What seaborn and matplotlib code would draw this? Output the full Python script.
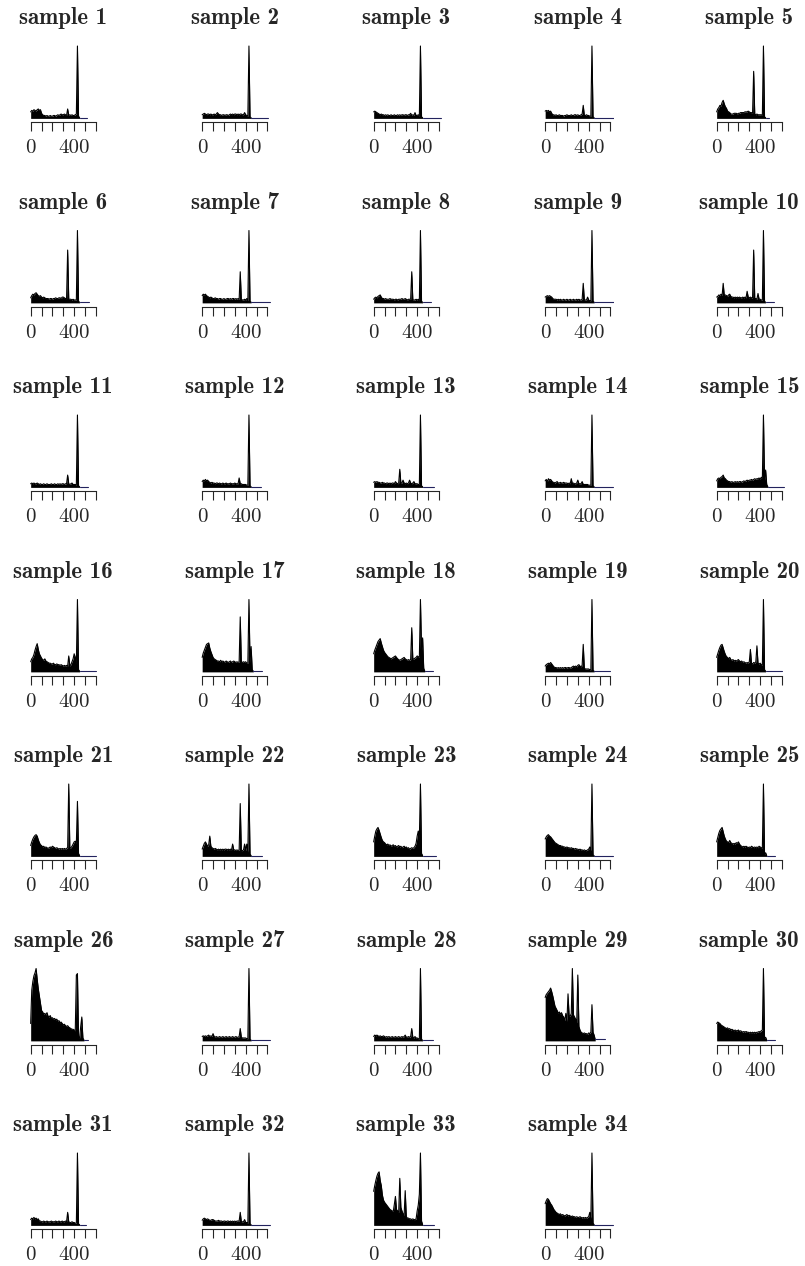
import numpy as np
import matplotlib
matplotlib.use("Agg")
import matplotlib.pyplot as plt
import seaborn as sns

# Channel spacing of every spectrum (values start at channel 0)
step = 10

s01 = [9, 11, 10, 12, 11, 10, 12, 13, 11, 12, 7, 5, 4, 4, 3, 4, 3, 3, 4, 3, 3, 4, 4, 3, 4,
       5, 4, 5, 6, 5, 5, 6, 5, 4, 13, 4, 5, 4, 5, 4, 4, 5, 6, 100, 3, 1]
s02 = [5, 6, 7, 6, 5, 6, 6, 5, 6, 5, 5, 6, 5, 6, 8, 6, 5, 5, 4, 5, 5, 4, 5, 5, 4,
       5, 6, 5, 6, 5, 6, 6, 5, 6, 5, 6, 6, 5, 5, 8, 5, 4, 3, 100, 2, 1]
s03 = [9, 10, 9, 8, 7, 6, 5, 6, 5, 5, 4, 5, 4, 5, 4, 4, 5, 4, 4, 5, 4, 4, 5, 4, 5,
       4, 5, 5, 4, 5, 5, 4, 5, 5, 7, 4, 5, 4, 8, 4, 4, 5, 3, 100, 2, 1]
s04 = [10, 11, 10, 11, 9, 10, 7, 5, 5, 4, 5, 4, 4, 5, 4, 4, 4, 3, 4, 4, 5, 4, 4, 4, 5,
       4, 4, 5, 5, 4, 5, 4, 4, 5, 6, 18, 4, 4, 5, 4, 4, 3, 3, 100, 2, 1]
s05 = [9, 13, 15, 18, 17, 22, 25, 20, 16, 14, 10, 9, 8, 6, 6, 6, 7, 7, 7, 6, 7, 7, 8, 8, 8,
       8, 9, 9, 9, 10, 9, 8, 8, 7, 65, 6, 5, 6, 5, 5, 5, 5, 4, 100, 2, 1]
s06 = [7, 10, 12, 11, 13, 14, 12, 10, 9, 10, 8, 7, 8, 7, 6, 6, 6, 5, 6, 6, 5, 6, 6, 7, 6,
       6, 7, 7, 6, 8, 8, 7, 6, 6, 73, 5, 5, 5, 4, 5, 4, 4, 4, 100, 2, 1]
s07 = [10, 12, 11, 12, 10, 9, 8, 7, 8, 7, 6, 6, 7, 6, 6, 5, 6, 6, 5, 5, 6, 5, 5, 6, 6,
       5, 6, 5, 6, 6, 5, 6, 5, 6, 5, 43, 5, 4, 4, 5, 4, 6, 3, 100, 2, 1]
s08 = [5, 7, 8, 7, 9, 10, 11, 8, 6, 6, 5, 6, 5, 5, 5, 6, 5, 5, 5, 4, 5, 5, 4, 5, 5,
       5, 6, 5, 5, 6, 5, 4, 5, 5, 5, 43, 4, 4, 4, 5, 4, 5, 3, 100, 2, 1]
s09 = [8, 9, 10, 9, 10, 9, 8, 6, 5, 5, 5, 4, 5, 4, 5, 4, 4, 5, 4, 4, 5, 4, 4, 5, 4,
       4, 5, 4, 4, 5, 4, 5, 4, 4, 5, 27, 4, 4, 4, 8, 4, 3, 3, 100, 2, 1]
s10 = [8, 9, 11, 10, 12, 10, 27, 10, 11, 10, 9, 11, 12, 9, 8, 8, 7, 8, 7, 8, 7, 8, 7, 7, 8,
       7, 8, 7, 16, 8, 7, 8, 7, 7, 73, 6, 6, 5, 13, 5, 5, 4, 4, 100, 2, 1]
s11 = [5, 6, 5, 6, 5, 5, 6, 5, 4, 5, 4, 4, 5, 4, 4, 5, 4, 4, 4, 5, 4, 4, 5, 4, 4,
       5, 4, 5, 4, 5, 5, 4, 5, 5, 17, 5, 4, 5, 6, 4, 4, 4, 3, 100, 2, 1]
s12 = [8, 10, 9, 11, 9, 10, 8, 7, 6, 7, 6, 6, 5, 6, 6, 5, 6, 5, 5, 6, 5, 5, 6, 5, 5,
       5, 6, 5, 5, 5, 6, 5, 5, 5, 13, 5, 5, 4, 4, 4, 4, 3, 3, 100, 2, 1]
s13 = [7, 8, 7, 8, 7, 7, 6, 6, 7, 6, 6, 5, 6, 6, 5, 6, 5, 6, 6, 5, 8, 6, 5, 6, 25,
       6, 6, 10, 6, 5, 6, 5, 6, 10, 6, 5, 6, 8, 5, 5, 5, 4, 4, 100, 2, 1]
s14 = [9, 11, 8, 12, 10, 11, 9, 7, 7, 6, 7, 8, 6, 6, 7, 6, 6, 7, 6, 6, 6, 5, 6, 5, 12,
       5, 6, 5, 5, 6, 10, 5, 5, 5, 8, 4, 4, 4, 4, 4, 3, 3, 3, 100, 2, 1]
s15 = [9, 12, 13, 12, 14, 15, 17, 13, 12, 10, 9, 8, 8, 7, 8, 7, 7, 8, 7, 8, 7, 8, 8, 7, 8,
       9, 8, 9, 10, 9, 10, 10, 11, 10, 11, 12, 11, 12, 12, 13, 11, 14, 12, 100, 10, 24, 4, 1]
s16 = [14, 18, 20, 24, 30, 35, 39, 31, 25, 22, 19, 17, 16, 18, 15, 14, 13, 12, 12, 11, 11, 12, 10, 10, 11,
       10, 10, 9, 10, 9, 8, 9, 8, 9, 8, 22, 8, 10, 14, 18, 25, 20, 12, 100, 3, 1]
s17 = [20, 26, 30, 34, 38, 39, 40, 33, 28, 24, 20, 18, 17, 16, 15, 15, 14, 16, 14, 15, 14, 13, 15, 14, 13,
       14, 15, 13, 14, 15, 14, 13, 14, 13, 14, 76, 14, 13, 14, 13, 14, 12, 12, 100, 13, 35, 3, 1]
s18 = [25, 30, 34, 38, 42, 44, 46, 40, 35, 30, 27, 25, 23, 21, 20, 19, 18, 19, 20, 21, 22, 20, 18, 17, 16,
       17, 18, 19, 20, 18, 17, 16, 17, 16, 17, 61, 17, 18, 19, 20, 22, 21, 20, 100, 30, 47, 5, 1]
s19 = [8, 10, 11, 12, 11, 13, 11, 9, 7, 6, 6, 5, 6, 5, 6, 5, 6, 5, 6, 6, 5, 6, 6, 5, 6,
       7, 8, 7, 8, 7, 9, 10, 8, 7, 9, 38, 5, 4, 4, 4, 4, 3, 3, 100, 2, 1]
s20 = [20, 25, 30, 34, 37, 38, 33, 28, 24, 21, 20, 18, 20, 17, 16, 17, 15, 16, 15, 16, 17, 15, 14, 15, 13,
       14, 13, 12, 13, 12, 14, 31, 12, 11, 13, 12, 14, 36, 12, 11, 12, 10, 9, 100, 3, 1]
s21 = [15, 20, 24, 27, 29, 30, 28, 23, 19, 16, 15, 13, 14, 12, 13, 12, 11, 12, 13, 12, 14, 13, 12, 11, 12,
       11, 10, 11, 10, 11, 10, 11, 10, 11, 12, 100, 11, 12, 14, 17, 20, 21, 18, 76, 4, 1]
s22 = [10, 14, 18, 20, 17, 14, 16, 28, 14, 12, 11, 10, 11, 10, 9, 10, 9, 10, 9, 10, 9, 10, 10, 9, 10,
       9, 10, 9, 17, 9, 9, 8, 9, 8, 9, 73, 8, 8, 9, 17, 8, 17, 6, 100, 3, 1]
s23 = [20, 28, 35, 38, 40, 36, 31, 26, 22, 20, 19, 17, 16, 17, 15, 16, 14, 15, 16, 14, 15, 13, 14, 15, 13,
       14, 12, 13, 14, 12, 13, 11, 12, 10, 11, 12, 11, 12, 14, 18, 28, 35, 25, 100, 4, 1]
s24 = [24, 27, 29, 30, 28, 27, 25, 23, 21, 19, 18, 17, 16, 15, 15, 14, 14, 13, 13, 12, 13, 12, 12, 11, 12,
       11, 11, 10, 11, 10, 10, 9, 10, 9, 9, 8, 9, 8, 8, 9, 10, 13, 8, 100, 2, 1]
s25 = [20, 26, 32, 36, 38, 40, 34, 28, 24, 21, 20, 19, 22, 19, 18, 17, 18, 17, 19, 18, 20, 17, 15, 14, 13,
       14, 13, 14, 13, 12, 13, 12, 14, 13, 12, 13, 12, 13, 12, 14, 13, 12, 11, 100, 3, 5, 1]
s26 = [24, 70, 82, 90, 94, 100, 85, 72, 62, 52, 42, 40, 37, 38, 36, 39, 34, 33, 35, 31, 32, 30, 31, 29, 30,
       27, 28, 25, 26, 24, 22, 23, 21, 20, 21, 19, 18, 17, 16, 16, 15, 14, 91, 93, 6, 4, 20, 33, 4, 1]
s27 = [6, 7, 6, 7, 6, 7, 8, 6, 7, 6, 10, 6, 5, 6, 5, 5, 6, 5, 5, 6, 5, 5, 6, 5, 5,
       6, 5, 5, 6, 5, 5, 6, 5, 5, 6, 17, 5, 4, 4, 4, 4, 3, 3, 100, 2, 1]
s28 = [6, 8, 7, 8, 7, 6, 7, 6, 6, 7, 6, 5, 6, 5, 6, 5, 5, 6, 5, 5, 6, 5, 5, 6, 5,
       5, 6, 5, 6, 8, 5, 5, 6, 5, 6, 17, 5, 4, 6, 4, 4, 3, 3, 100, 2, 1]
s29 = [60, 64, 66, 68, 70, 73, 68, 62, 55, 48, 45, 42, 38, 40, 37, 39, 35, 33, 28, 38, 27, 65, 35, 34, 38,
       100, 36, 33, 30, 25, 91, 20, 15, 12, 11, 10, 11, 10, 10, 9, 11, 10, 12, 50, 12, 8, 2]
s30 = [24, 26, 25, 24, 22, 21, 20, 19, 18, 17, 18, 16, 17, 15, 16, 15, 14, 15, 14, 14, 15, 13, 14, 13, 12,
       13, 12, 13, 12, 12, 11, 12, 11, 12, 11, 12, 11, 12, 12, 13, 12, 14, 15, 100, 3, 5, 1]
s31 = [8, 10, 9, 11, 9, 10, 8, 9, 6, 6, 5, 5, 6, 5, 5, 6, 5, 5, 5, 6, 5, 5, 5, 6, 5,
       5, 6, 5, 5, 6, 5, 5, 6, 5, 18, 5, 4, 4, 5, 4, 4, 3, 3, 100, 2, 1]
s32 = [7, 9, 10, 9, 8, 9, 8, 7, 7, 8, 8, 7, 6, 6, 6, 7, 6, 6, 6, 5, 6, 6, 5, 6, 6,
       5, 6, 5, 6, 5, 6, 5, 6, 6, 6, 18, 5, 5, 5, 8, 4, 4, 3, 100, 2, 1]
s33 = [47, 55, 62, 68, 72, 74, 62, 55, 42, 35, 32, 30, 28, 26, 24, 22, 21, 20, 19, 29, 40, 22, 20, 18, 65,
       25, 20, 16, 14, 48, 12, 10, 10, 9, 9, 8, 9, 8, 8, 9, 20, 28, 43, 100, 6, 1]
s34 = [30, 34, 37, 36, 33, 30, 28, 25, 22, 20, 18, 17, 16, 15, 16, 14, 15, 14, 13, 14, 15, 13, 14, 13, 12,
       13, 12, 12, 11, 12, 11, 11, 12, 11, 10, 11, 10, 11, 10, 11, 12, 18, 10, 100, 3, 1]

samples = [s01, s02, s03, s04, s05, s06, s07, s08, s09, s10,
           s11, s12, s13, s14, s15, s16, s17, s18, s19, s20,
           s21, s22, s23, s24, s25, s26, s27, s28, s29, s30,
           s31, s32, s33, s34]
titles = [f"sample {i}" for i in range(1, len(samples) + 1)]

# Last channel of the near-zero trailing segment of each spectrum
tail_end = [515, 605, 623, 630, 480,
            540, 628, 530, 630, 525,
            525, 539, 553, 628, 619,
            600, 548, 544, 600, 600,
            600, 548, 577, 628, 534,
            525, 628, 544, 550, 534,
            506, 628, 553, 628]

tick_pos = [0, 100, 200, 300, 400, 500, 600]
tick_txt = ["0", "", "", "", "400", "", ""]

sns.set_style("ticks")
plt.rcParams["font.family"] = ["cmr10", "DejaVu Serif"]
plt.rcParams["axes.formatter.use_mathtext"] = True

W, H = 805, 1266
fig = plt.figure(figsize=(W / 100, H / 100), dpi=100)

ncol = 5
ax_w, ax_h = 71.8, 79.6
for i, (vals, name, tend) in enumerate(zip(samples, titles, tail_end)):
    r, c = divmod(i, ncol)
    left = 27.4 + 171.5 * c
    top = 42.4 + 184.5 * r
    ax = fig.add_axes([left / W, 1 - (top + ax_h) / H, ax_w / W, ax_h / H])

    x = np.arange(len(vals)) * step
    y = np.asarray(vals, dtype=float)
    ax.fill_between(x, 0, y, color="black", lw=0)
    sns.lineplot(x=x, y=y, color="black", lw=0.8, ax=ax)
    sns.lineplot(x=[x[-1], tend], y=[y[-1], y[-1]], color="#23235e", lw=0.8, ax=ax)

    ax.set_xlim(-30, 630)
    ax.set_ylim(-0.05 * y.max(), 1.05 * y.max())
    for side in ("left", "top", "right"):
        ax.spines[side].set_visible(False)
    ax.spines["bottom"].set_bounds(0, 600)
    ax.spines["bottom"].set_linewidth(0.8)
    ax.set_yticks([])
    ax.set_xticks(tick_pos)
    ax.set_xticklabels(tick_txt)
    ax.tick_params(axis="x", length=6.3, width=0.8, pad=6, labelsize=15, direction="out")
    ax.set_xlabel("")
    ax.set_ylabel("")
    ax.set_title(name, fontsize=16.5, fontfamily="cmb10", pad=13)

fig.savefig("out.png", dpi=100)
